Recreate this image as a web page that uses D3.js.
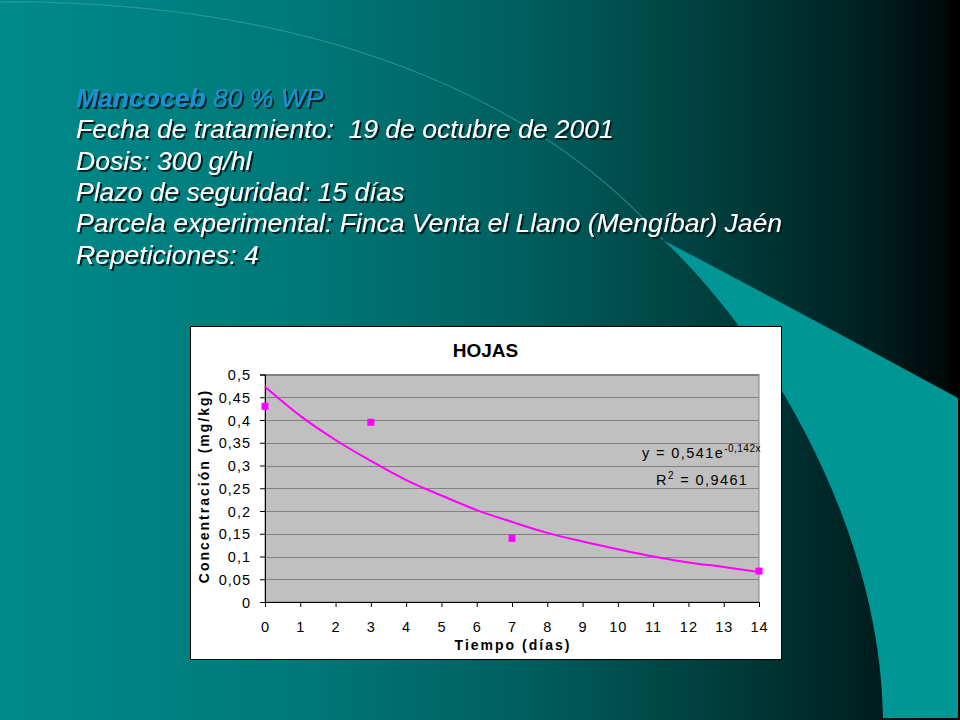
<!DOCTYPE html>
<html>
<head>
<meta charset="utf-8">
<script src="https://cdn.jsdelivr.net/npm/d3@7"></script>
<style>
  body { margin: 0; background: #000; }
  svg { display: block; }
  text { font-family: "Liberation Sans", Arial, sans-serif; }
</style>
</head>
<body>
<svg id="slide" width="960" height="720"></svg>
<script>
// slide text
const headLines = [
    "Fecha de tratamiento:  19 de octubre de 2001",
    "Dosis: 300 g/hl",
    "Plazo de seguridad: 15 días",
    "Parcela experimental: Finca Venta el Llano (Mengíbar) Jaén",
    "Repeticiones: 4"
];

// measured residues
const days = [0, 3, 7, 14];
const conc = [0.43, 0.395, 0.14, 0.068];

// exponential trend curve
const trendDays = [0, 1, 2, 3, 4, 5, 6, 7, 8, 9, 10, 11, 12, 13, 14];
const trendConc = [0.473, 0.409, 0.356, 0.310, 0.268, 0.234, 0.202, 0.176, 0.152, 0.133, 0.116, 0.100, 0.087, 0.077, 0.066];

const xTicks = [0, 1, 2, 3, 4, 5, 6, 7, 8, 9, 10, 11, 12, 13, 14];
const yTicks = [0, 0.05, 0.1, 0.15, 0.2, 0.25, 0.3, 0.35, 0.4, 0.45, 0.5];

const svg = d3.select("#slide");
const defs = svg.append("defs");

const bg = defs.append("linearGradient")
    .attr("id", "bgGrad")
    .attr("x1", 0).attr("x2", 1).attr("y1", 0).attr("y2", 0);
[[0, "#008a8a"], [0.3, "#007979"], [0.55, "#005e5e"], [0.75, "#003d3d"], [0.9, "#002121"], [0.985, "#000808"]]
    .forEach(([o, c]) => bg.append("stop").attr("offset", o).attr("stop-color", c));

defs.append("filter")
    .attr("id", "shadow")
    .attr("x", "-5%").attr("y", "-20%").attr("width", "115%").attr("height", "160%")
    .append("feDropShadow")
    .attr("dx", 2).attr("dy", 2)
    .attr("stdDeviation", 0.6)
    .attr("flood-color", "#011c1c")
    .attr("flood-opacity", 0.95);

svg.append("rect").attr("width", 960).attr("height", 720).attr("fill", "url(#bgGrad)");
svg.append("rect").attr("x", 950).attr("width", 10).attr("height", 720).attr("fill", "#000");

// faint arc and the bright wedge on the right
svg.append("path")
    .attr("d", "M0,2 C350,0 560,120 663,240")
    .attr("fill", "none")
    .attr("stroke", "#3fa8a8")
    .attr("stroke-opacity", 0.55)
    .attr("stroke-width", 1.2);

svg.append("path")
    .attr("d", "M663,240 Q800,312 958,398 L958,718 L883,718 C880,520 760,330 663,240 Z")
    .attr("fill", "#009696");

// header text
const head = svg.append("g")
    .attr("transform", "translate(76,0)")
    .attr("filter", "url(#shadow)");
const lineY = [106.5, 138, 169.5, 201, 232, 263.5];

const first = head.append("text")
    .attr("x", 0)
    .attr("y", lineY[0])
    .attr("font-size", 26.5)
    .attr("font-style", "italic")
    .attr("fill", "#1f90d2");
first.append("tspan").attr("font-weight", "bold").text("Mancoceb");
first.append("tspan").text(" 80 % WP");

head.selectAll(".line")
    .data(headLines)
    .join("text")
    .attr("class", "line")
    .attr("x", 0)
    .attr("y", (d, i) => lineY[i + 1])
    .attr("font-size", 26.5)
    .attr("font-style", "italic")
    .attr("fill", "#fff")
    .style("white-space", "pre")
    .text(d => d);

// chart box
svg.append("rect")
    .attr("x", 190.5).attr("y", 326.5)
    .attr("width", 591).attr("height", 333)
    .attr("fill", "#fff")
    .attr("stroke", "#000");

const x = d3.scaleLinear().domain([0, 14]).range([265, 759]);
const y = d3.scaleLinear().domain([0, 0.5]).range([602, 374.5]);

svg.append("rect")
    .attr("x", x(0)).attr("y", y(0.5))
    .attr("width", x(14) - x(0)).attr("height", y(0) - y(0.5))
    .attr("fill", "#c0c0c0")
    .attr("stroke", "#808080");

svg.append("g")
    .selectAll("line")
    .data(yTicks.filter(d => d > 0))
    .join("line")
    .attr("x1", x(0)).attr("x2", x(14))
    .attr("y1", d => Math.round(y(d)) + 0.5)
    .attr("y2", d => Math.round(y(d)) + 0.5)
    .attr("stroke", "#808080");

const comma = d => String(d).replace(".", ",");

const yAxis = svg.append("g")
    .attr("transform", `translate(${x(0)},0)`)
    .call(d3.axisLeft(y).tickValues(yTicks).tickSize(5).tickPadding(9).tickFormat(comma));
const xAxis = svg.append("g")
    .attr("transform", `translate(0,${y(0)})`)
    .call(d3.axisBottom(x).tickValues(xTicks).tickSize(5).tickPadding(15).tickFormat(comma));

[yAxis, xAxis].forEach(a => {
    a.select(".domain").attr("stroke", "#000");
    a.selectAll(".tick line").attr("stroke", "#000");
    a.selectAll(".tick text")
        .attr("font-family", "'Liberation Sans', Arial, sans-serif")
        .attr("font-size", 14.5)
        .attr("letter-spacing", 1)
        .attr("fill", "#000");
});
yAxis.selectAll(".tick text").attr("dy", "0.36em");

// trend curve and points
svg.append("path")
    .datum(trendDays.map((d, i) => [d, trendConc[i]]))
    .attr("d", d3.line().x(d => x(d[0])).y(d => y(d[1])).curve(d3.curveMonotoneX))
    .attr("fill", "none")
    .attr("stroke", "#ff00ff")
    .attr("stroke-width", 2);

svg.append("g")
    .selectAll("rect")
    .data(days.map((d, i) => ({ day: d, value: conc[i] })))
    .join("rect")
    .attr("x", d => x(d.day) - 3.5)
    .attr("y", d => y(d.value) - 3.5)
    .attr("width", 7)
    .attr("height", 7)
    .attr("fill", "#ff00ff");

// titles
svg.append("text")
    .attr("x", 485.5).attr("y", 356.7)
    .attr("text-anchor", "middle")
    .attr("font-size", 19)
    .attr("font-weight", "bold")
    .text("HOJAS");

svg.append("text")
    .attr("transform", "translate(209,486) rotate(-90)")
    .attr("text-anchor", "middle")
    .attr("font-size", 14)
    .attr("font-weight", "bold")
    .attr("letter-spacing", 2)
    .text("Concentración (mg/kg)");

svg.append("text")
    .attr("x", 513).attr("y", 650)
    .attr("text-anchor", "middle")
    .attr("font-size", 14)
    .attr("font-weight", "bold")
    .attr("letter-spacing", 2)
    .text("Tiempo (días)");

// trend equation
const eq = svg.append("text")
    .attr("x", 642).attr("y", 458)
    .attr("font-size", 14.5)
    .attr("letter-spacing", 1.4);
eq.append("tspan").text("y = 0,541e");
eq.append("tspan").attr("font-size", 10).attr("dy", -6).attr("letter-spacing", 0.5).text("-0,142x");

const r2 = svg.append("text")
    .attr("x", 656).attr("y", 485)
    .attr("font-size", 14.5)
    .attr("letter-spacing", 1.4);
r2.append("tspan").text("R");
r2.append("tspan").attr("font-size", 10).attr("dy", -6).text("2");
r2.append("tspan").attr("dy", 6).text(" = 0,9461");
</script>
</body>
</html>
